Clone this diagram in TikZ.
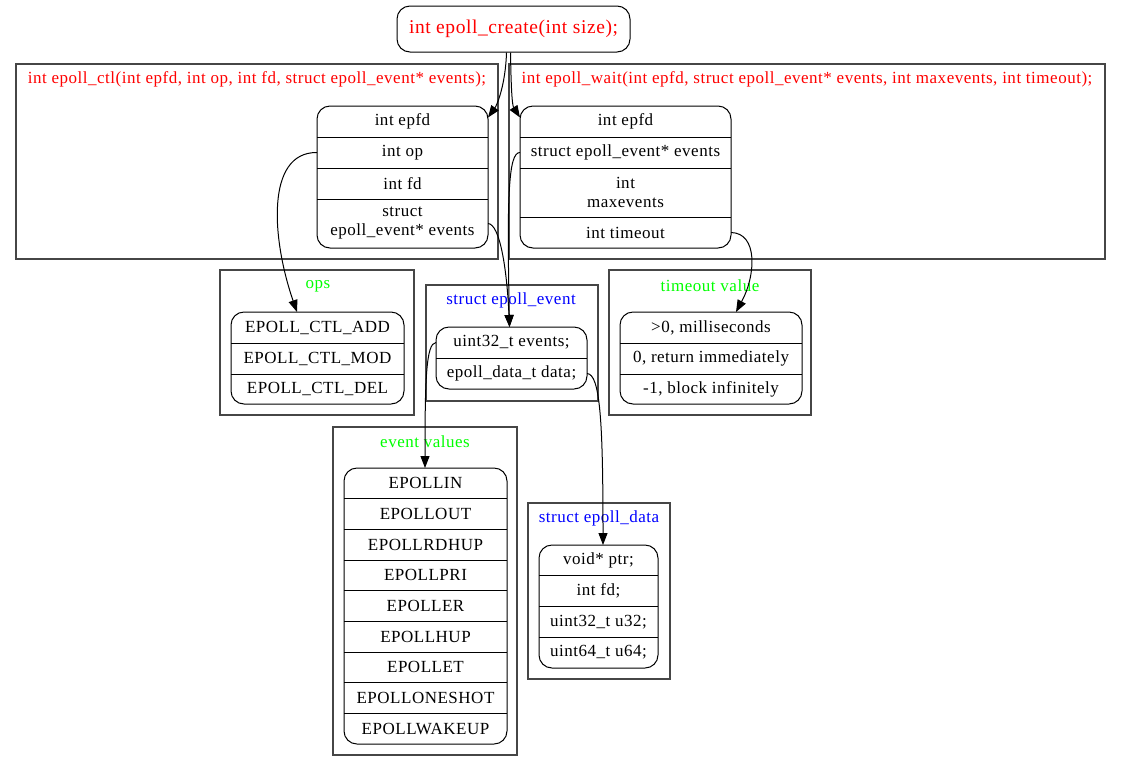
\documentclass[tikz,border=0pt]{standalone}
\usepackage{fontspec}
\setmainfont{Liberation Serif}[LetterSpace=3]
\usetikzlibrary{arrows.meta,calc}
\definecolor{gvred}{RGB}{255,0,0}
\definecolor{gvgreen}{RGB}{0,255,0}
\definecolor{gvblue}{RGB}{0,0,255}
\definecolor{clusterline}{RGB}{70,70,70}
\newcommand{\bodyfont}{\fontsize{17}{19}\selectfont}
\newcommand{\titlefont}{\fontsize{19.5}{22}\selectfont}
\tikzset{
  rowcell/.style={inner sep=0pt, outer sep=0pt, align=center, font=\bodyfont, text=black},
  recframe/.style={draw=black, line width=1pt, rounded corners=13pt},
  splitline/.style={draw=black, line width=1pt},
  cluster/.style={draw=clusterline, line width=1.3pt, inner sep=0pt, outer sep=0pt},
  gvedge/.style={draw=black, line width=1pt, -{Triangle[length=12pt,width=9pt]}},
  clabel/.style={font=\bodyfont, inner sep=0pt}
}
\begin{document}
\begin{tikzpicture}[x=1pt,y=-1pt]
\fill[white] (0,0) rectangle (1121,772);
\useasboundingbox (0,0) rectangle (1121,772);

% ---------- clusters ----------
\node[cluster, minimum width=482pt, minimum height=195pt] (clCtl) at (257,161.5) {};
\node[cluster, minimum width=596pt, minimum height=195pt] (clWait) at (807,161.5) {};
\node[cluster, minimum width=194pt, minimum height=145pt] (clOps) at (317,342.5) {};
\node[cluster, minimum width=172pt, minimum height=116pt] (clEe) at (512,343) {};
\node[cluster, minimum width=202pt, minimum height=145pt] (clTo) at (710,342.5) {};
\node[cluster, minimum width=184pt, minimum height=328pt] (clEvv) at (425,591) {};
\node[cluster, minimum width=142pt, minimum height=176pt] (clEd) at (599,591) {};

% ---------- cluster labels ----------
\node[clabel, text=gvred] (lbCtl) at (257,79) {int epoll\_ctl(int epfd, int op, int fd, struct epoll\_event* events);};
\node[clabel, text=gvred] (lbWait) at (807,79) {int epoll\_wait(int epfd, struct epoll\_event* events, int maxevents, int timeout);};
\node[clabel, text=gvgreen] (lbOps) at (318,286) {ops};
\node[clabel, text=gvblue] (lbEe) at (511,300) {struct epoll\_event};
\node[clabel, text=gvgreen] (lbTo) at (710,286) {timeout value};
\node[clabel, text=gvgreen] (lbEvv) at (425,442) {event values};
\node[clabel, text=gvblue] (lbEd) at (599,518) {struct epoll\_data};

% ---------- title ----------
\node[draw=black, line width=1pt, rounded corners=13pt, minimum width=233pt, minimum height=46pt,
      inner sep=0pt, font=\titlefont, text=gvred] (title) at (513.5,29) {int epoll\_create(int size);};

% ---------- epoll_ctl record ----------
\node[rowcell, minimum width=171pt, minimum height=31pt] (ctlEpfd) at (402.5,121.5) {int epfd};
\node[rowcell, minimum width=171pt, minimum height=31pt] (ctlOp) at (402.5,152.5) {int op};
\node[rowcell, minimum width=171pt, minimum height=31pt] (ctlFd) at (402.5,183.5) {int fd};
\node[rowcell, minimum width=171pt, minimum height=49pt] (ctlEv) at (402.5,223.5) {struct\\epoll\_event* events};
\draw[recframe] (ctlEpfd.north west) rectangle (ctlEv.south east);
\foreach \r in {ctlEpfd,ctlOp,ctlFd} \draw[splitline] (\r.south west) -- (\r.south east);

% ---------- epoll_wait record ----------
\node[rowcell, minimum width=211pt, minimum height=31pt] (wtEpfd) at (625.5,121.5) {int epfd};
\node[rowcell, minimum width=211pt, minimum height=31pt] (wtEv) at (625.5,152.5) {struct epoll\_event* events};
\node[rowcell, minimum width=211pt, minimum height=49pt] (wtMax) at (625.5,192.5) {int\\maxevents};
\node[rowcell, minimum width=211pt, minimum height=31pt] (wtTo) at (625.5,232.5) {int timeout};
\draw[recframe] (wtEpfd.north west) rectangle (wtTo.south east);
\foreach \r in {wtEpfd,wtEv,wtMax} \draw[splitline] (\r.south west) -- (\r.south east);

% ---------- ops record ----------
\node[rowcell, minimum width=173pt, minimum height=31pt] (opAdd) at (317.5,327.5) {EPOLL\_CTL\_ADD};
\node[rowcell, minimum width=173pt, minimum height=31pt] (opMod) at (317.5,358.5) {EPOLL\_CTL\_MOD};
\node[rowcell, minimum width=173pt, minimum height=30pt] (opDel) at (317.5,389) {EPOLL\_CTL\_DEL};
\draw[recframe] (opAdd.north west) rectangle (opDel.south east);
\foreach \r in {opAdd,opMod} \draw[splitline] (\r.south west) -- (\r.south east);

% ---------- struct epoll_event record ----------
\node[rowcell, minimum width=151pt, minimum height=31pt] (eeEv) at (511.5,342.5) {uint32\_t events;};
\node[rowcell, minimum width=151pt, minimum height=31pt] (eeData) at (511.5,373.5) {epoll\_data\_t data;};
\draw[recframe] (eeEv.north west) rectangle (eeData.south east);
\draw[splitline] (eeEv.south west) -- (eeEv.south east);

% ---------- timeout record ----------
\node[rowcell, minimum width=182pt, minimum height=31pt] (toPos) at (711,327.5) {>0, milliseconds};
\node[rowcell, minimum width=182pt, minimum height=31pt] (toZero) at (711,358.5) {0, return immediately};
\node[rowcell, minimum width=182pt, minimum height=30pt] (toNeg) at (711,389) {-1, block infinitely};
\draw[recframe] (toPos.north west) rectangle (toNeg.south east);
\foreach \r in {toPos,toZero} \draw[splitline] (\r.south west) -- (\r.south east);

% ---------- event values record ----------
\foreach \t [count=\i] in {EPOLLIN,EPOLLOUT,EPOLLRDHUP,EPOLLPRI,EPOLLER,EPOLLHUP,EPOLLET,EPOLLONESHOT,EPOLLWAKEUP}
  \node[rowcell, minimum width=163pt, minimum height=30.667pt] (ev\i) at (425.5,{468+15.333+(\i-1)*30.667}) {\t};
\draw[recframe] (ev1.north west) rectangle (ev9.south east);
\foreach \i in {1,...,8} \draw[splitline] (ev\i.south west) -- (ev\i.south east);

% ---------- struct epoll_data record ----------
\node[rowcell, minimum width=119pt, minimum height=30.75pt] (edPtr) at (598.5,560.375) {void* ptr;};
\node[rowcell, minimum width=119pt, minimum height=30.75pt] (edFd) at (598.5,591.125) {int fd;};
\node[rowcell, minimum width=119pt, minimum height=30.75pt] (edU32) at (598.5,621.875) {uint32\_t u32;};
\node[rowcell, minimum width=119pt, minimum height=30.75pt] (edU64) at (598.5,652.625) {uint64\_t u64;};
\draw[recframe] (edPtr.north west) rectangle (edU64.south east);
\foreach \r in {edPtr,edFd,edU32} \draw[splitline] (\r.south west) -- (\r.south east);

% ---------- edges ----------
\draw[gvedge] ([xshift=-7pt]title.south) .. controls (505.5,85) and (497,105) .. ([yshift=4pt]ctlEpfd.east);
\draw[gvedge] ([xshift=-3pt]title.south) .. controls (511,85) and (512,105) .. ([yshift=4pt]wtEpfd.west);
\draw[gvedge] (ctlOp.west) .. controls (265,152) and (272,240) .. ([xshift=-20.5pt]opAdd.north);
\draw[gvedge] (ctlEv.east) .. controls (500,224) and (507,270) .. ([xshift=-2pt]eeEv.north);
\draw[gvedge] (wtEv.west) .. controls (508,152) and (507,200) .. ([xshift=-2pt]eeEv.north);
\draw[gvedge] (wtTo.east) .. controls (758,233) and (756,275) .. ([xshift=25pt]toPos.north);
\draw[gvedge] (eeEv.west) .. controls (426,343) and (425,380) .. ([xshift=-0.5pt]ev1.north);
\draw[gvedge] (eeData.east) .. controls (600,374) and (603,420) .. ([xshift=4.5pt]edPtr.north);
\end{tikzpicture}
\end{document}
